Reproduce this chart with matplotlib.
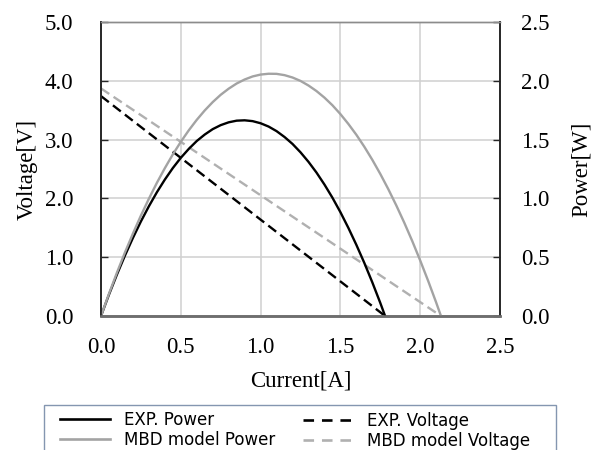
import matplotlib
matplotlib.use("Agg")
import matplotlib.pyplot as plt
from matplotlib.lines import Line2D
from matplotlib.patches import Rectangle

# ---- data ----
exp_current = [0.0, 0.05, 0.1, 0.15, 0.2, 0.25, 0.3, 0.35, 0.4, 0.45, 0.5, 0.55, 0.6,
               0.65, 0.7, 0.75, 0.8, 0.85, 0.9, 0.95, 1.0, 1.05, 1.1, 1.15, 1.2, 1.25,
               1.3, 1.35, 1.4, 1.45, 1.5, 1.55, 1.6, 1.65, 1.7, 1.75, 1.78]
exp_power = [0.0, 0.182, 0.353, 0.514, 0.664, 0.804, 0.933, 1.052, 1.160, 1.258, 1.345,
             1.421, 1.488, 1.543, 1.589, 1.623, 1.647, 1.661, 1.664, 1.657, 1.639, 1.611,
             1.572, 1.522, 1.463, 1.392, 1.311, 1.220, 1.118, 1.006, 0.883, 0.749, 0.605,
             0.451, 0.286, 0.111, 0.0]

mbd_current = [0.0, 0.05, 0.1, 0.15, 0.2, 0.25, 0.3, 0.35, 0.4, 0.45, 0.5, 0.55, 0.6,
               0.65, 0.7, 0.75, 0.8, 0.85, 0.9, 0.95, 1.0, 1.05, 1.1, 1.15, 1.2, 1.25,
               1.3, 1.35, 1.4, 1.45, 1.5, 1.55, 1.6, 1.65, 1.7, 1.75, 1.8, 1.85, 1.9,
               1.95, 2.0, 2.05, 2.1, 2.13]
mbd_power = [0.0, 0.189, 0.369, 0.540, 0.701, 0.854, 0.997, 1.132, 1.257, 1.374, 1.481,
             1.579, 1.668, 1.748, 1.819, 1.881, 1.933, 1.977, 2.011, 2.037, 2.053, 2.060,
             2.059, 2.048, 2.028, 1.999, 1.960, 1.913, 1.857, 1.792, 1.717, 1.633, 1.541,
             1.439, 1.328, 1.208, 1.079, 0.941, 0.794, 0.638, 0.472, 0.298, 0.115, 0.0]

exp_v_current = [0.0, 1.78]
exp_voltage = [3.74, 0.0]
mbd_v_current = [0.0, 2.13]
mbd_voltage = [3.87, 0.0]

x_ticks = [0.0, 0.5, 1.0, 1.5, 2.0, 2.5]
v_ticks = [0.0, 1.0, 2.0, 3.0, 4.0, 5.0]
p_ticks = [0.0, 0.5, 1.0, 1.5, 2.0, 2.5]

labels = ["EXP. Power", "MBD model Power", "EXP. Voltage", "MBD model Voltage"]

# ---- style ----
SERIF = "Liberation Serif"
FS = 16.5
BLACK = "#000000"
GRAY = "#a3a3a3"
GRAY_D = "#b0b0b0"

W, H = 603, 450
fig = plt.figure(figsize=(W / 100, H / 100), dpi=100)
fig.patch.set_facecolor("white")

L, R, T, B = 101, 500, 22, 316
ax = fig.add_axes([L / W, 1 - B / H, (R - L) / W, (B - T) / H])
ax2 = ax.twinx()

ax.set_xlim(0, 2.5)
ax.set_ylim(0, 5.0)
ax2.set_ylim(0, 2.5)

ax.set_xticks(x_ticks)
ax.set_xticklabels([f"{v:.1f}" for v in x_ticks])
ax.set_yticks(v_ticks)
ax.set_yticklabels([f"{v:.1f}" for v in v_ticks])
ax2.set_yticks(p_ticks)
ax2.set_yticklabels([f"{v:.1f}" for v in p_ticks])

ax.grid(True, color="#d0d0d0", linewidth=1.1)
ax.set_axisbelow(True)

dash = (4.2, 2.2)
ax.plot(exp_v_current, exp_voltage, color=BLACK, lw=1.7, linestyle=(0, dash))
ax.plot(mbd_v_current, mbd_voltage, color=GRAY_D, lw=1.7, linestyle=(0, dash))
ax2.plot(exp_current, exp_power, color=BLACK, lw=1.7, solid_capstyle="round")
ax2.plot(mbd_current, mbd_power, color=GRAY, lw=1.7, solid_capstyle="round")

ax.tick_params(axis="x", length=0, pad=15, labelsize=FS, labelfontfamily=SERIF)
ax.tick_params(axis="y", direction="in", length=5, width=1, color="#262626", pad=20,
               labelsize=FS, labelfontfamily=SERIF)
ax2.tick_params(axis="y", direction="in", length=5, width=1, color="#262626", pad=15,
                labelsize=FS, labelfontfamily=SERIF)

for a in (ax, ax2):
    a.spines["left"].set_color("#262626")
    a.spines["left"].set_linewidth(1.2)
    a.spines["right"].set_color("#262626")
    a.spines["right"].set_linewidth(1.2)
    a.spines["bottom"].set_color("#6e6e6e")
    a.spines["bottom"].set_linewidth(1.8)
    a.spines["top"].set_color("#8c8c8c")
    a.spines["top"].set_linewidth(1.0)

fig.text(27 / W, 1 - 169 / H, "Voltage[V]", rotation=90, ha="center", va="center",
         fontfamily=SERIF, fontsize=FS)
fig.text(581 / W, 1 - 169 / H, "Power[W]", rotation=90, ha="center", va="center",
         fontfamily=SERIF, fontsize=FS)
fig.text(301 / W, 1 - 381 / H, "Current[A]", ha="center", va="center",
         fontfamily=SERIF, fontsize=FS)

# legend frame (extends beyond the bottom of the figure)
fig.patches.append(Rectangle((44 / W, -0.2), (556 - 44) / W, 0.2 + 1 - 405 / H,
                             transform=fig.transFigure, fill=False,
                             edgecolor="#8496b0", linewidth=1.0))

dash_leg = (4.0, 3.0)
h1 = [Line2D([], [], color=BLACK, lw=1.9), Line2D([], [], color=GRAY, lw=1.9)]
h2 = [Line2D([], [], color=BLACK, lw=1.9, linestyle=(0, dash_leg)),
      Line2D([], [], color=GRAY_D, lw=1.9, linestyle=(0, dash_leg))]
common = dict(frameon=False, borderpad=0, borderaxespad=0, handlelength=3.0,
              handletextpad=0.85, labelspacing=0.1, loc="upper left",
              prop={"family": "DejaVu Sans", "size": 12})
leg1 = fig.legend(h1, labels[:2], bbox_to_anchor=(60 / W, 1 - 411 / H), **common)
leg2 = fig.legend(h2, labels[2:], bbox_to_anchor=(303 / W, 1 - 412 / H), **common)

fig.savefig("out.png", dpi=100)
